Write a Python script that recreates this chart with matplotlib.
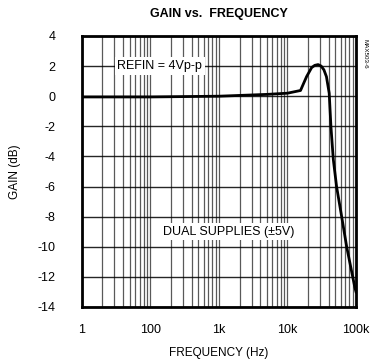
import numpy as np
import matplotlib
matplotlib.use("Agg")
import matplotlib.pyplot as plt
from matplotlib.ticker import LogLocator, NullFormatter

plt.rcParams["font.family"] = ["Liberation Sans", "DejaVu Sans"]
plt.rcParams["axes.unicode_minus"] = False

# curve
freq = [10, 100, 1000, 5000, 10000, 15500, 17000, 19000, 22500, 25000, 28000,
        31000, 34000, 37000, 40600, 43000, 46600, 52000, 61700, 73000, 96000, 100000]
gain = [-0.05, -0.05, 0.0, 0.12, 0.2, 0.38, 0.8, 1.3, 1.9, 2.05, 2.1,
        2.0, 1.75, 1.3, 0.2, -2.0, -4.2, -6.0, -8.0, -10.0, -12.7, -13.0]

xticks = [10, 100, 1000, 10000, 100000]
xticklabels = ["1", "100", "1k", "10k", "100k"]
yticks = list(range(-14, 5, 2))

fig = plt.figure(figsize=(3.74, 3.62), dpi=100)
ax = fig.add_axes([0.2185, 0.152, 0.7335, 0.7486])

ax.plot(freq, gain, color="black", lw=2, zorder=5)

ax.set_xscale("log")
ax.set_xlim(10, 100000)
ax.set_ylim(-14, 4)
ax.set_xticks(xticks)
ax.set_xticklabels(xticklabels)
ax.xaxis.set_minor_locator(LogLocator(base=10, subs=np.arange(2, 10)))
ax.xaxis.set_minor_formatter(NullFormatter())
ax.set_yticks(yticks)
ax.tick_params(which="both", length=0, labelsize=9)
ax.tick_params(axis="x", pad=12)
ax.tick_params(axis="y", pad=19)
ax.grid(which="both", axis="x", color="black", lw=0.9, alpha=0.65)
ax.grid(which="major", axis="y", color="black", lw=1.0, alpha=0.85)
for s in ax.spines.values():
    s.set_linewidth(2)

ax.set_xlabel("FREQUENCY (Hz)", fontsize=8.5, labelpad=8)
ax.set_ylabel("GAIN (dB)", fontsize=8.5, labelpad=12)
ax.set_title("GAIN vs.  FREQUENCY", fontsize=9, fontweight="bold", pad=14)

box = dict(facecolor="white", edgecolor="none", pad=2)
ax.text(0.285, 2, "REFIN = 4Vp-p", transform=ax.get_yaxis_transform(),
        ha="center", va="center", fontsize=9, bbox=box, zorder=6)
ax.text(0.534, -9, "DUAL SUPPLIES (±5V)", transform=ax.get_yaxis_transform(),
        ha="center", va="center", fontsize=9, bbox=box, zorder=6)
fig.text(0.976, 0.85, "MAX503-6", rotation=-90, fontsize=4.5, ha="center", va="center")

fig.savefig("out.png", dpi=100)
